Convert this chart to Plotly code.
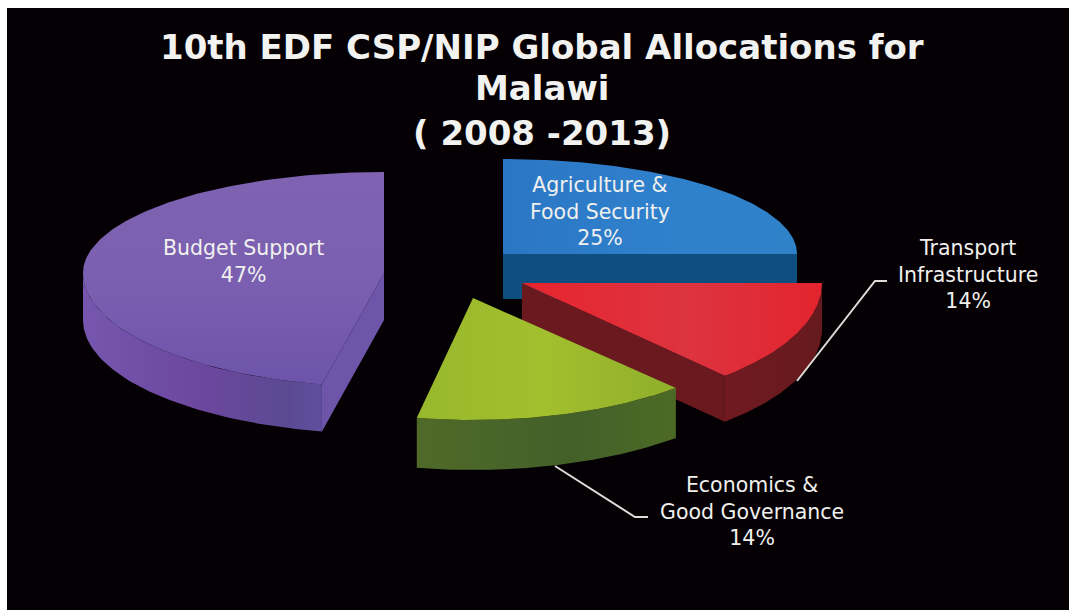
import numpy as np
import plotly.graph_objects as go

# Shares of the allocation, clockwise from twelve o'clock
categories = ["Agriculture &<br>Food Security", "Transport<br>Infrastructure",
              "Economics &<br>Good Governance", "Budget Support"]
shares = [25, 14, 14, 47]
title_lines = ["10th EDF CSP/NIP Global Allocations for", "Malawi", "( 2008 -2013)"]

# Exploded-pie projection for each slice: apex position, radii and extrusion depth
apex_x = [503, 522, 473, 384]
apex_y = [254, 283, 298, 273]
radius_x = [294, 300, 300, 301]
radius_back = [95, 100, 100, 101]
radius_front = [100, 126, 122, 114]
depth = [45, 46, 50, 47]
# Perspective skew of the lower-right and lower-left quadrants, in degrees
skew_right = [3, 3, 3, 3]
skew_left = [0, 0, 0, 3]

top_fills = [
    ("horizontal", [[0, "#2b76c4"], [0.5, "#2f80cc"], [1, "#2f82c8"]]),
    ("horizontal", [[0, "#e8242e"], [0.55, "#dc3440"], [1, "#e3242e"]]),
    ("horizontal", [[0, "#98b82c"], [0.5, "#a2bf2e"], [1, "#8fae2b"]]),
    ("vertical", [[0, "#6c54aa"], [0.45, "#7a5fb0"], [1, "#7f63b2"]]),
]
rim_fills = [
    [[0, "#0f4f80"], [1, "#0f4f80"]],
    [[0, "#701a20"], [1, "#661a1e"]],
    [[0, "#4f6a28"], [0.6, "#43602a"], [1, "#4c6a24"]],
    [[0, "#7656ae"], [0.5, "#6c479e"], [0.85, "#5b4a92"], [1, "#5f4f9e"]],
]
cut_colors = ["#0f4f80", "#6a1a1f", "#4a6326", "#6d56aa"]
draw_order = [3, 0, 1, 2]


def rim_point(i, angle):
    """Screen position of the slice's outer edge at a clockwise angle from the top."""
    wave = np.sin(2 * angle)
    skew = skew_right[i] if wave < 0 else skew_left[i]
    screen = angle + np.radians(skew) * wave
    ry = radius_back[i] if np.cos(screen) > 0 else radius_front[i]
    return apex_x[i] + radius_x[i] * np.sin(screen), apex_y[i] - ry * np.cos(screen)


def polygon_trace(xs, ys, color=None, gradient=None):
    trace = dict(x=list(xs), y=list(ys), mode="lines", fill="toself",
                 line=dict(width=0), hoverinfo="skip", showlegend=False)
    if gradient is not None:
        trace["fillgradient"] = dict(type=gradient[0], colorscale=gradient[1])
    else:
        trace["fillcolor"] = color
    return go.Scatter(**trace)


bounds = 2 * np.pi * np.concatenate([[0], np.cumsum(shares)]) / sum(shares)

fig = go.Figure()
for i in draw_order:
    a0, a1 = bounds[i], bounds[i + 1]
    angles = np.linspace(a0, a1, 160)
    rim = np.array([rim_point(i, a) for a in angles])

    # Extruded outer wall: only the part that faces the viewer
    front = rim[np.cos(angles) <= 0]
    if len(front):
        fig.add_trace(polygon_trace(
            np.r_[front[:, 0], front[::-1, 0]],
            np.r_[front[:, 1], front[::-1, 1] + depth[i]],
            gradient=("horizontal", rim_fills[i])))

    # Flat cut faces turned toward the viewer
    for angle, visible in ((a0, np.sin(a0) < -1e-6), (a1, np.sin(a1) > 1e-6)):
        if visible:
            px, py = rim_point(i, angle)
            fig.add_trace(polygon_trace(
                [apex_x[i], px, px, apex_x[i]],
                [apex_y[i], py, py + depth[i], apex_y[i] + depth[i]],
                color=cut_colors[i]))

    # Top surface of the slice
    fig.add_trace(polygon_trace(
        np.r_[apex_x[i], rim[:, 0]], np.r_[apex_y[i], rim[:, 1]],
        gradient=top_fills[i]))

# Category labels with their percentages
label_pos = [(600, 211), (968, 274), (752, 511), (243, 261)]
annotations = []
for name, share, (lx, ly) in zip(categories, shares, label_pos):
    annotations.append(dict(x=lx, y=ly, xref="x", yref="y", showarrow=False,
                            text=f"{name}<br>{share}%", align="center",
                            font=dict(family="DejaVu Sans", size=20.5, color="#f0f0ee")))

for line, ly in zip(title_lines, (47, 88, 133)):
    annotations.append(dict(x=542, y=ly, xref="x", yref="y", showarrow=False,
                            text=f"<b>{line}</b>",
                            font=dict(family="DejaVu Sans", size=34, color="#f2f2f0")))

# Leader lines for the two labels outside the pie
leader_paths = ["M 797 381 L 875 281 L 887 281", "M 555 466 L 635 517 L 648 517"]
shapes = [dict(type="path", path=p, xref="x", yref="y",
               line=dict(color="#dcdcd8", width=2)) for p in leader_paths]

fig.update_layout(
    width=1069, height=610,
    margin=dict(l=7, r=0, t=8, b=0),
    paper_bgcolor="#ffffff", plot_bgcolor="#050003",
    xaxis=dict(range=[7, 1069], visible=False, fixedrange=True),
    yaxis=dict(range=[610, 8], visible=False, fixedrange=True),
    annotations=annotations, shapes=shapes,
)

fig.write_html("out.html")
